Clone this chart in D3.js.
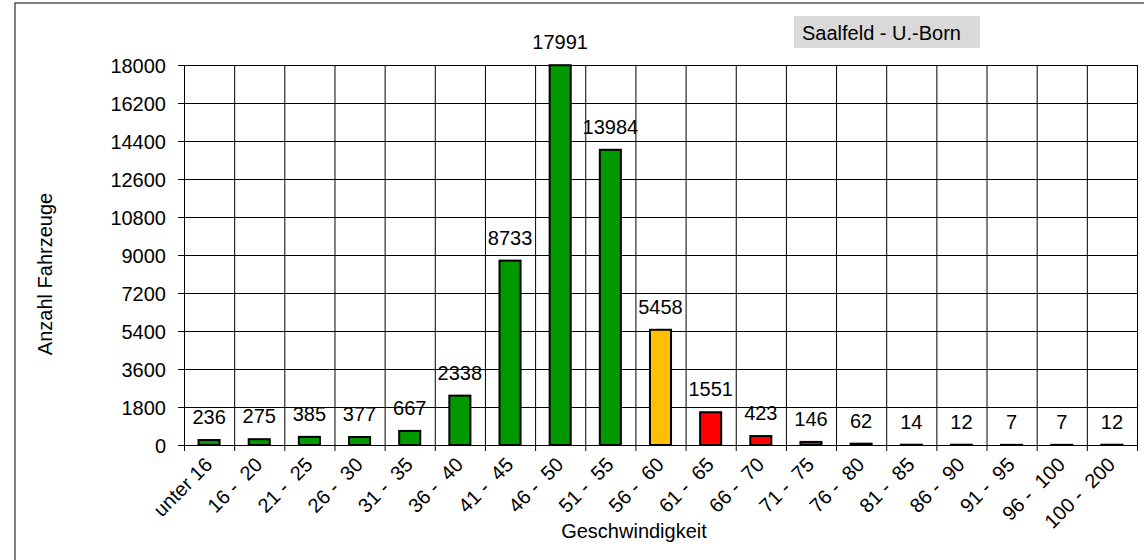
<!DOCTYPE html>
<meta charset="utf-8">
<head>
<script src="https://d3js.org/d3.v7.min.js"></script>
<style>
  body { margin: 0; background: #fff; }
  svg { font-family: "Liberation Sans", Arial, sans-serif; }
  .axis text { font-size: 20px; fill: #000; }
  .axis path, .axis line { stroke: #000; }
  .grid line { stroke: #000; stroke-width: 1; }
  .grid path { stroke-width: 0; }
</style>
</head>
<body>
<script>

// data
var categories = ["unter 16", "16 - 20", "21 - 25", "26 - 30", "31 - 35", "36 - 40",
                  "41 - 45", "46 - 50", "51 - 55", "56 - 60", "61 - 65", "66 - 70",
                  "71 - 75", "76 - 80", "81 - 85", "86 - 90", "91 - 95", "96 - 100",
                  "100 - 200"];
var counts = [236, 275, 385, 377, 667, 2338, 8733, 17991, 13984, 5458,
              1551, 423, 146, 62, 14, 12, 7, 7, 12];
var yTicks = [0, 1800, 3600, 5400, 7200, 9000, 10800, 12600, 14400, 16200, 18000];
var title = "Saalfeld - U.-Born";

var W = 1144, H = 560;
var plot = {left: 184, right: 1137, top: 65, bottom: 445};

var svg = d3.select("body").append("svg")
    .attr("width", W)
    .attr("height", H);

// outer chart frame
svg.append("rect")
    .attr("x", 15).attr("y", 3)
    .attr("width", 1200).attr("height", 600)
    .attr("fill", "none").attr("stroke", "#000").attr("stroke-width", 1);

var x = d3.scaleBand().domain(categories).range([plot.left, plot.right]);
var xb = d3.scaleLinear().domain([0, categories.length]).range([plot.left, plot.right]);
var y = d3.scaleLinear().domain([0, 18000]).range([plot.bottom, plot.top]);

// colour by upper speed bound
function upper(c) { var p = c.split(/[ -]+/); return +p[p.length - 1]; }
function barColor(c) {
  var u = upper(c);
  if (u <= 55) return "#009900";
  if (u <= 60) return "#ffc000";
  return "#ff0000";
}

// horizontal gridlines
svg.append("g")
    .attr("class", "grid")
    .attr("transform", "translate(" + plot.left + ",0)")
    .call(d3.axisLeft(y).tickValues(yTicks).tickSize(-(plot.right - plot.left)).tickFormat(""));

// vertical gridlines at category boundaries
svg.append("g")
    .attr("class", "grid")
    .attr("transform", "translate(0," + plot.bottom + ")")
    .call(d3.axisBottom(xb).tickValues(d3.range(categories.length + 1))
      .tickSize(-(plot.bottom - plot.top)).tickFormat(""));

// bars
var bw = x.bandwidth() * 0.42;
svg.selectAll(".bar")
    .data(categories)
    .enter().append("rect")
    .attr("class", "bar")
    .attr("x", function(d) { return x(d) + (x.bandwidth() - bw) / 2; })
    .attr("y", function(d, i) { return y(counts[i]); })
    .attr("width", bw)
    .attr("height", function(d, i) { return plot.bottom - y(counts[i]); })
    .attr("fill", function(d) { return barColor(d); })
    .attr("stroke", "#000")
    .attr("stroke-width", 2);

// value labels
svg.selectAll(".val")
    .data(categories)
    .enter().append("text")
    .attr("class", "val")
    .attr("x", function(d) { return x(d) + x.bandwidth() / 2; })
    .attr("y", function(d, i) { return y(counts[i]) - 16; })
    .attr("text-anchor", "middle")
    .style("font-size", "20px")
    .text(function(d, i) { return counts[i]; });

// y axis
svg.append("g")
    .attr("class", "axis")
    .attr("transform", "translate(" + plot.left + ",0)")
    .call(d3.axisLeft(y).tickValues(yTicks).tickSize(6).tickSizeOuter(0)
      .tickPadding(12).tickFormat(d3.format("d")))
    .selectAll("text").attr("dy", "0.35em");

// x axis: tick marks at boundaries
svg.append("g")
    .attr("class", "axis")
    .attr("transform", "translate(0," + plot.bottom + ")")
    .call(d3.axisBottom(xb).tickValues(d3.range(categories.length + 1))
      .tickSize(6).tickSizeOuter(0).tickFormat(""));

// x axis: rotated category labels (wider gap after the dash, as in the original)
svg.append("g")
    .attr("class", "axis")
    .attr("transform", "translate(0," + plot.bottom + ")")
    .call(d3.axisBottom(x).tickSize(0)
      .tickFormat(function(d) { return d.replace(" - ", " -\u00a0\u00a0"); }))
    .call(function(g) { g.select(".domain").remove(); })
    .selectAll("text")
      .attr("x", 0).attr("y", 0).attr("dy", 0)
      .attr("text-anchor", "end")
      .attr("transform", "translate(4.5,21) rotate(-45)");

// axis titles
svg.append("text")
    .attr("x", 634).attr("y", 538)
    .attr("text-anchor", "middle")
    .style("font-size", "20px")
    .text("Geschwindigkeit");

svg.append("text")
    .attr("transform", "translate(52,274) rotate(-90)")
    .attr("text-anchor", "middle")
    .style("font-size", "20px")
    .text("Anzahl Fahrzeuge");

// location box
svg.append("rect")
    .attr("x", 794).attr("y", 16)
    .attr("width", 186).attr("height", 32)
    .attr("fill", "#d9d9d9");
svg.append("text")
    .attr("x", 802).attr("y", 40)
    .style("font-size", "20px")
    .text(title);

</script>
</body>
